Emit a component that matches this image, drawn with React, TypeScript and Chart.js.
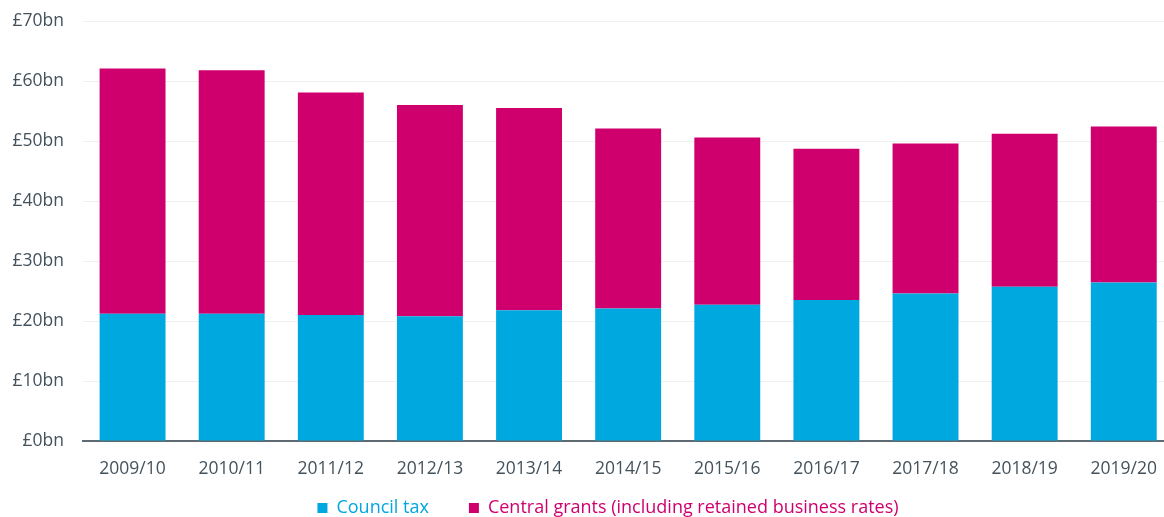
import React, { useEffect, useRef } from "react";
import { Chart, registerables } from "chart.js";

Chart.register(...registerables);

const years = ["2009/10", "2010/11", "2011/12", "2012/13", "2013/14", "2014/15", "2015/16", "2016/17", "2017/18", "2018/19", "2019/20"];
const councilTax = [21.2, 21.2, 21.0, 20.8, 21.8, 22.1, 22.7, 23.5, 24.6, 25.7, 26.4];
const centralGrants = [40.9, 40.6, 37.1, 35.2, 33.7, 30.0, 27.9, 25.2, 25.0, 25.5, 26.0];
const yTicks = [0, 10, 20, 30, 40, 50, 60, 70];

const CYAN = "#00a8e0";
const MAGENTA = "#cf006e";
const TEXT = "#44525c";

const legendShift = {
  id: "legendShift",
  afterLayout(chart: any) {
    const lg = chart.legend;
    if (!lg) return;
    lg.left += 41;
    lg.top -= 29;
    lg.bottom -= 29;
  },
};

export default function App() {
  const ref = useRef<HTMLCanvasElement | null>(null);

  useEffect(() => {
    if (!ref.current) return;
    const chart = new Chart(ref.current, {
      type: "bar",
      data: {
        labels: years,
        datasets: [
          { label: "Council tax", data: councilTax, backgroundColor: CYAN, borderWidth: 0 },
          { label: "Central grants (including retained business rates)", data: centralGrants, backgroundColor: MAGENTA, borderWidth: 0 },
        ],
      },
      plugins: [legendShift],
      options: {
        animation: false,
        responsive: false,
        maintainAspectRatio: false,
        layout: { padding: { left: 0, top: 21, right: 0, bottom: 0 } },
        datasets: { bar: { categoryPercentage: 1, barPercentage: 0.665 } },
        plugins: {
          tooltip: { enabled: false },
          legend: {
            position: "bottom",
            labels: {
              boxWidth: 10,
              boxHeight: 10,
              padding: 40,
              font: { family: "'Open Sans'", size: 18 },
              generateLabels: (c: any) =>
                c.data.datasets.map((ds: any, i: number) => ({
                  text: ds.label,
                  fillStyle: ds.backgroundColor,
                  strokeStyle: ds.backgroundColor,
                  lineWidth: 0,
                  fontColor: ds.backgroundColor,
                  hidden: false,
                  datasetIndex: i,
                })),
            },
          },
        },
        scales: {
          x: {
            stacked: true,
            grid: { display: false, drawTicks: false },
            border: { display: true, color: "#5e6a72", width: 2 },
            ticks: { color: TEXT, padding: 18, font: { family: "'Open Sans'", size: 17.5 }, maxRotation: 0, autoSkip: false },
            afterFit: (s: any) => { s.height = 47; },
          },
          y: {
            stacked: true,
            min: 0,
            max: 70,
            afterBuildTicks: (s: any) => { s.ticks = yTicks.map((v) => ({ value: v })); },
            grid: { color: "#f0f0f0", drawTicks: false, lineWidth: 1 },
            border: { display: false },
            ticks: {
              color: TEXT,
              padding: 19,
              font: { family: "'Open Sans'", size: 17.5 },
              callback: (v: any) => "£" + v + "bn",
            },
            afterFit: (s: any) => { s.width = 83; s.paddingTop = 0; s.paddingBottom = 0; },
          },
        },
      },
    });
    return () => chart.destroy();
  }, []);

  return (
    <div style={{ position: "fixed", left: 0, top: 0, width: 1164, height: 517, overflow: "hidden", background: "#fff" }}>
      <canvas ref={ref} width={1175} height={556} style={{ display: "block", width: 1175, height: 556 }} />
    </div>
  );
}
